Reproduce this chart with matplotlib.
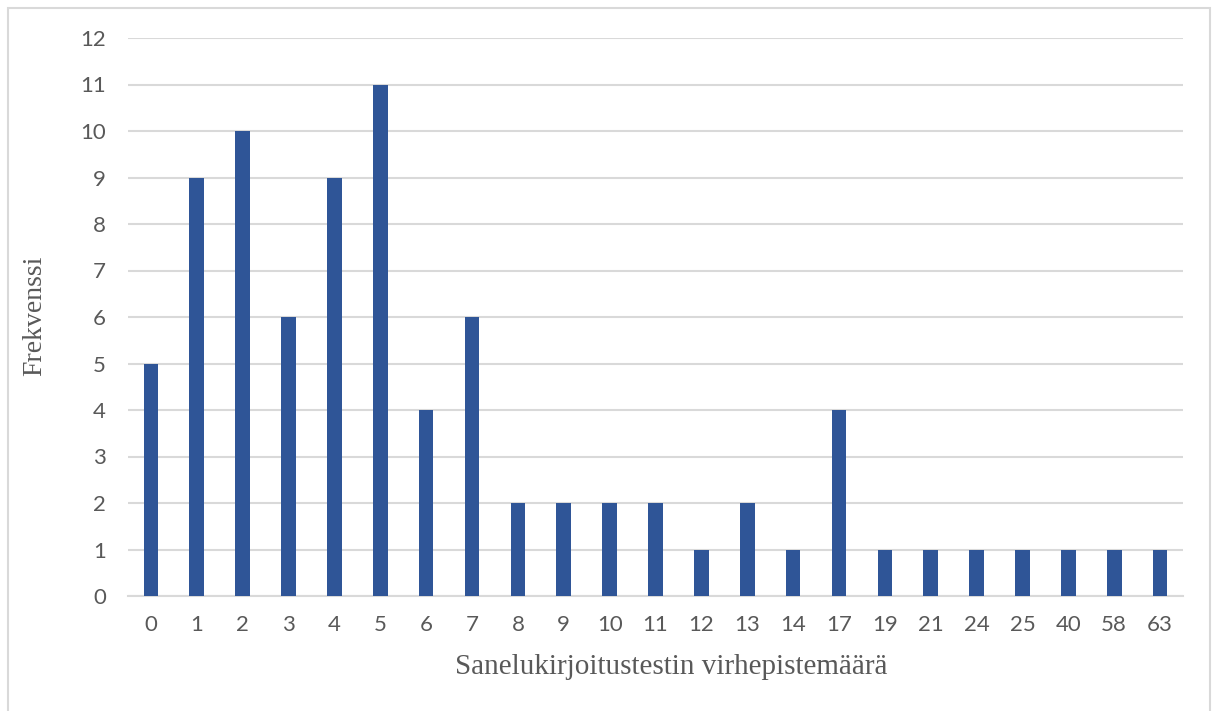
import matplotlib.pyplot as plt
from matplotlib.patches import Rectangle

# error score categories and how many pupils got each
scores = ['0', '1', '2', '3', '4', '5', '6', '7', '8', '9', '10', '11', '12',
          '13', '14', '17', '19', '21', '24', '25', '40', '58', '63']
counts = [5, 9, 10, 6, 9, 11, 4, 6, 2, 2, 2, 2, 1, 2, 1, 4, 1, 1, 1, 1, 1, 1, 1]

fig = plt.figure(figsize=(12.16, 7.11), dpi=100)
ax = fig.add_axes([128/1216, 1 - 596/711, 1055/1216, 558/711])

xs = list(range(len(scores)))
ax.bar(xs, counts, width=0.32, color='#2F5597', zorder=3)

ax.set_xlim(-0.5, len(scores) - 0.5)
ax.set_ylim(0, 12)
ax.set_yticks(range(0, 13))
ax.set_xticks(xs)
ax.set_xticklabels(scores)
ax.grid(axis='y', color='#d9d9d9', linewidth=1.5, zorder=0)
ax.tick_params(length=0, labelsize=16, colors='#595959')
ax.tick_params(axis='x', pad=14)
ax.tick_params(axis='y', pad=16)
for lbl in ax.get_xticklabels() + ax.get_yticklabels():
    lbl.set_family('Lato')
for s in ['top', 'right', 'left']:
    ax.spines[s].set_visible(False)
ax.spines['bottom'].set_color('#d9d9d9')
ax.spines['bottom'].set_linewidth(1.5)

fig.text(35/1216, 1 - 316/711, 'Frekvenssi', rotation=90, ha='center', va='center',
         family='Liberation Serif', fontsize=20, color='#595959')
fig.text(671/1216, 1 - 667/711, 'Sanelukirjoitustestin virhepistemäärä', ha='center',
         va='center', family='Liberation Serif', fontsize=21, color='#595959')

# light frame round the chart area
fig.patches.append(Rectangle((8/1216, -0.01), 1202/1216, 1 - 8/711 + 0.01,
                             transform=fig.transFigure, fill=False,
                             edgecolor='#d9d9d9', linewidth=1.5))

fig.savefig('out.png', dpi=100)
